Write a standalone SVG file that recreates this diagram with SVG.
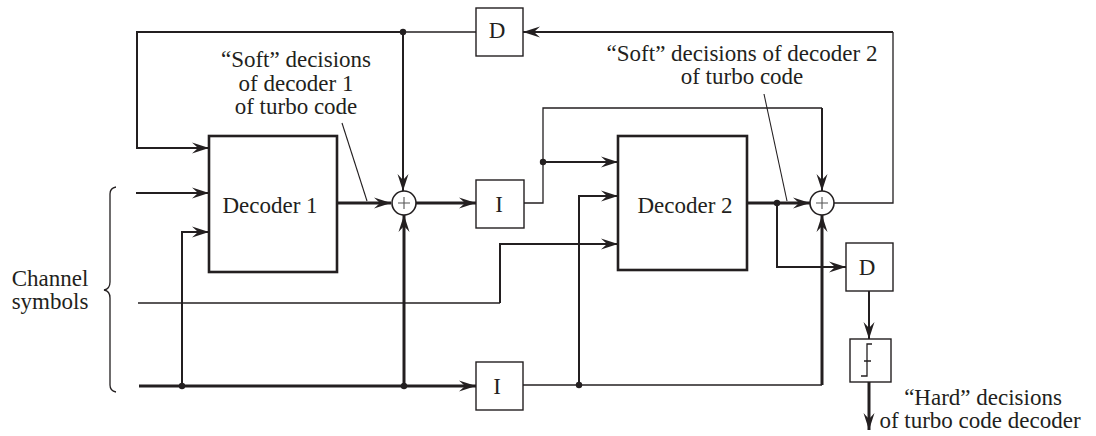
<svg xmlns="http://www.w3.org/2000/svg" width="1096" height="436" viewBox="0 0 1096 436">
<defs>
<marker id="arr" markerUnits="userSpaceOnUse" markerWidth="20" markerHeight="14" refX="0" refY="0" viewBox="-18 -7 20 14" orient="auto" overflow="visible">
<path d="M-17,-5.5 L0,0 L-17,5.5 L-11,0 z" fill="#231f20"/>
</marker>
</defs>
<style>
text{font-family:"Liberation Serif","Times New Roman",serif;font-size:23px;fill:#231f20}
.c{text-anchor:middle}
.box{fill:#fff;stroke:#231f20;stroke-width:1.4}
.dec{fill:#fff;stroke:#231f20;stroke-width:2.6}
.thin{fill:none;stroke:#231f20;stroke-width:1.3}
.med{fill:none;stroke:#231f20;stroke-width:2}
.thick{fill:none;stroke:#231f20;stroke-width:3}
.lead{fill:none;stroke:#231f20;stroke-width:1.1}
.dot{fill:#231f20}
.sum{fill:#fff;stroke:#231f20;stroke-width:1.6}
.plus{stroke:#555;stroke-width:1.1}
</style>
<g id="connectors">
<path class="med" d="M137,148 V32 H403"/>
<path class="thin" d="M403,32 H476"/>
<path class="med" d="M893,32 H523" marker-end="url(#arr)"/>
<path class="thin" d="M834,203 H893 V32"/>
<path class="med" d="M136,148 H209" marker-end="url(#arr)"/>
<path class="med" d="M136,193 H209" marker-end="url(#arr)"/>
<path class="med" d="M182,386 V232 H209" marker-end="url(#arr)"/>
<path class="thick" d="M337,203 H391" marker-end="url(#arr)"/>
<path class="med" d="M403,32 V191" marker-end="url(#arr)"/>
<path class="thick" d="M404,386 V215" marker-end="url(#arr)"/>
<path class="thick" d="M416,203 H476" marker-end="url(#arr)"/>
<path class="thick" d="M139,386 H476" marker-end="url(#arr)"/>
<path class="thin" d="M138,303 H500"/>
<path class="med" d="M500,303 V244 H618" marker-end="url(#arr)"/>
<path class="thin" d="M524,203 H543 V108 H822"/>
<path class="med" d="M822,108 V191" marker-end="url(#arr)"/>
<path class="med" d="M543,162 H618" marker-end="url(#arr)"/>
<path class="thin" d="M523,385 H822"/>
<path class="med" d="M579,385 V196 H618" marker-end="url(#arr)"/>
<path class="thick" d="M822,385 V215" marker-end="url(#arr)"/>
<path class="thick" d="M747,203 H810" marker-end="url(#arr)"/>
<path class="med" d="M777,203 V267 H846" marker-end="url(#arr)"/>
<path class="med" d="M869,291 V339" marker-end="url(#arr)"/>
<path class="thick" d="M869,382 V430" marker-end="url(#arr)"/>
<path class="lead" d="M342,123 L367,201"/>
<path class="lead" d="M764,94 L787,201"/>
<path class="thin" d="M116,187 Q110,188 110,194 V282 Q110,289 104,290 Q110,291 110,298 V385 Q110,391 116,392"/>
<circle class="dot" cx="403" cy="32" r="3.2"/>
<circle class="dot" cx="182" cy="386" r="3.2"/>
<circle class="dot" cx="404" cy="386" r="3.2"/>
<circle class="dot" cx="543" cy="162" r="3.2"/>
<circle class="dot" cx="579" cy="385" r="3.2"/>
<circle class="dot" cx="777" cy="203" r="3.2"/>
</g>
<g id="decoder1">
<rect class="dec" x="209" y="136" width="128" height="136"/>
<text class="c" x="270" y="213">Decoder 1</text>
</g>
<g id="decoder2">
<rect class="dec" x="618" y="136" width="129" height="134"/>
<text class="c" x="685" y="213">Decoder 2</text>
</g>
<g id="adder1">
<circle class="sum" cx="404" cy="203" r="12"/>
<path class="plus" d="M398,203 H410 M404,197 V209"/>
</g>
<g id="adder2">
<circle class="sum" cx="822" cy="203" r="12"/>
<path class="plus" d="M816,203 H828 M822,197 V209"/>
</g>
<g id="delay-top">
<rect class="box" x="476" y="8" width="47" height="48"/>
<text class="c" x="497" y="38">D</text>
</g>
<g id="interleaver-upper">
<rect class="box" x="476" y="180" width="48" height="48"/>
<text class="c" x="499" y="212">I</text>
</g>
<g id="interleaver-lower">
<rect class="box" x="476" y="362" width="47" height="48"/>
<text class="c" x="497" y="394">I</text>
</g>
<g id="delay-bottom">
<rect class="box" x="846" y="243" width="47" height="48"/>
<text class="c" x="867" y="275">D</text>
</g>
<g id="threshold">
<rect class="box" x="850" y="339" width="41" height="43"/>
<path class="thin" d="M861,376 H867 V344 H872 M864,361 H871"/>
</g>
<g id="labels">
<text class="c" x="296" y="67">“Soft” decisions</text>
<text class="c" x="296" y="91">of decoder 1</text>
<text class="c" x="296" y="114">of turbo code</text>
<text class="c" x="742" y="61">“Soft” decisions of decoder 2</text>
<text class="c" x="742" y="84">of turbo code</text>
<text class="c" x="50" y="286">Channel</text>
<text class="c" x="50" y="309">symbols</text>
<text class="c" x="983" y="405">“Hard” decisions</text>
<text class="c" x="980" y="428">of turbo code decoder</text>
</g>
</svg>
